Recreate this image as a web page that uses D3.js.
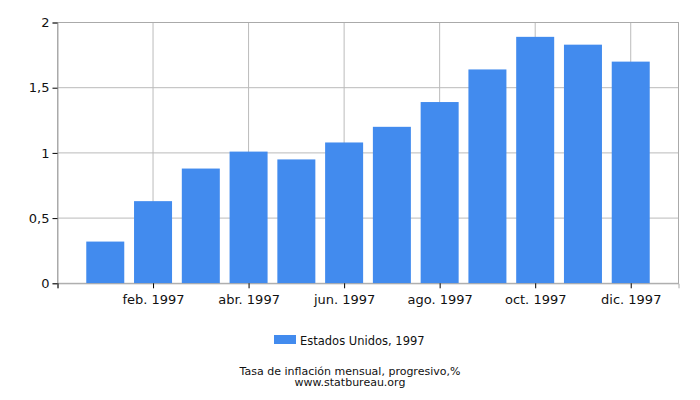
<!DOCTYPE html>
<html>
<head>
<meta charset="utf-8">
<script src="https://cdn.jsdelivr.net/npm/d3@7"></script>
<style>
  body { margin: 0; background: #fff; }
  text { font-family: "DejaVu Sans", sans-serif; fill: #111; }
</style>
</head>
<body>
<div id="chart"></div>
<script>
const months = ["ene. 1997", "feb. 1997", "mar. 1997", "abr. 1997", "may. 1997", "jun. 1997",
  "jul. 1997", "ago. 1997", "sep. 1997", "oct. 1997", "nov. 1997", "dic. 1997"];
const values = [0.32, 0.63, 0.88, 1.01, 0.95, 1.08, 1.2, 1.39, 1.64, 1.89, 1.83, 1.7];
const yTicks = [0, 0.5, 1, 1.5, 2];
const seriesName = "Estados Unidos, 1997";
const title = "Tasa de inflación mensual, progresivo,%";
const source = "www.statbureau.org";

const svg = d3.select("#chart").append("svg")
  .attr("width", 700)
  .attr("height", 400);

const margin = { top: 22.5, left: 57.5, right: 21.5, bottom: 116.7 };
const width = 700 - margin.left - margin.right;
const height = 400 - margin.top - margin.bottom;

const x = d3.scaleLinear().domain([0, months.length + 1]).range([0, width]);
const y = d3.scaleLinear().domain([0, 2]).range([height, 0]);
const barW = 38;
const fmt = d => String(d).replace(".", ",");

const chart = svg.append("g").attr("transform", `translate(${margin.left},${margin.top})`);

// grid
chart.append("g").selectAll("line").data(yTicks.slice(1))
  .join("line")
  .attr("x1", 0).attr("x2", width)
  .attr("y1", d => y(d)).attr("y2", d => y(d))
  .attr("stroke", "#bbb");
const evenIdx = d3.range(2, months.length + 1, 2);
chart.append("g").selectAll("line").data(evenIdx)
  .join("line")
  .attr("x1", d => x(d)).attr("x2", d => x(d))
  .attr("y1", 0).attr("y2", height)
  .attr("stroke", "#bbb");

// frame
chart.append("rect")
  .attr("width", width).attr("height", height)
  .attr("fill", "none").attr("stroke", "#aaa");

// bars
chart.append("g").selectAll("rect").data(values)
  .join("rect")
  .attr("x", (d, i) => x(i + 1) - barW / 2)
  .attr("width", barW)
  .attr("y", d => y(d))
  .attr("height", d => height - y(d))
  .attr("fill", "#428bee");

// y axis
const yAxis = chart.append("g")
  .call(d3.axisLeft(y).tickValues(yTicks).tickFormat(fmt).tickSize(5).tickPadding(3));
yAxis.select(".domain").attr("stroke", "#aaa");
yAxis.selectAll("text").style("font-size", "13px");

// x axis
const xAxis = chart.append("g")
  .attr("transform", `translate(0,${height})`)
  .call(d3.axisBottom(x).tickValues([0].concat(evenIdx))
    .tickFormat(d => d === 0 ? "" : months[d - 1]).tickSize(5).tickPadding(6));
xAxis.select(".domain").attr("stroke", "#aaa");
xAxis.selectAll("text").style("font-size", "13px");

// legend
const legend = svg.append("g").attr("transform", "translate(274,335)");
legend.append("rect").attr("width", 22).attr("height", 9).attr("fill", "#428bee");
legend.append("text").attr("x", 26).attr("y", 9.5)
  .style("font-size", "11.5px").text(seriesName);

svg.append("text").attr("x", 350).attr("y", 374.5)
  .attr("text-anchor", "middle").style("font-size", "11px").text(title);
svg.append("text").attr("x", 350).attr("y", 386)
  .attr("text-anchor", "middle").style("font-size", "11px").text(source);
</script>
</body>
</html>
